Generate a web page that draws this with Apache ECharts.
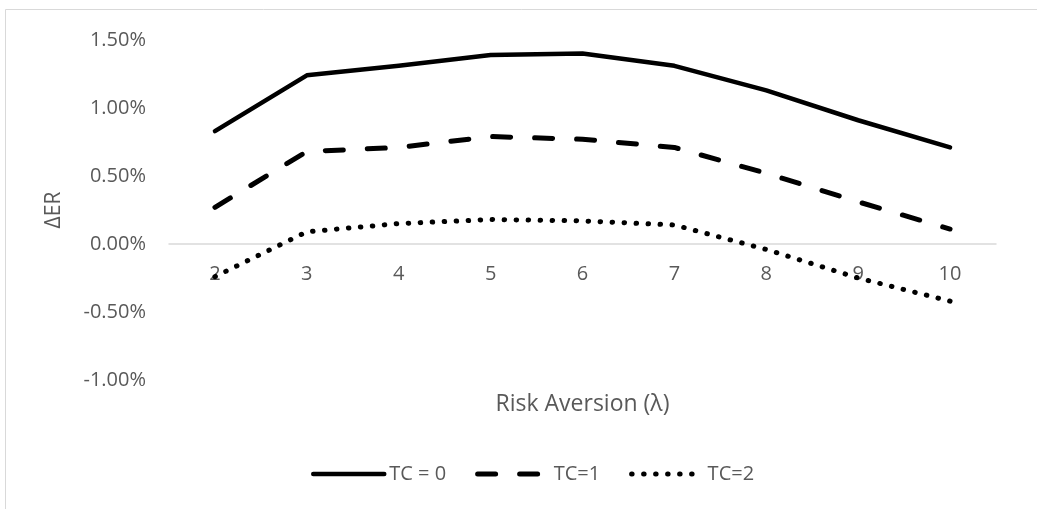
<!DOCTYPE html>
<html>
<head>
<meta charset="utf-8">
<script src="https://cdn.jsdelivr.net/npm/echarts@6/dist/echarts.min.js"></script>
<style>html,body{margin:0;padding:0;background:#fff;}#c{width:1037px;height:509px;}</style>
</head>
<body>
<div id="c"></div>
<script>
var categories = ['2', '3', '4', '5', '6', '7', '8', '9', '10'];
var tc0 = [0.83, 1.24, 1.31, 1.39, 1.40, 1.31, 1.13, 0.91, 0.71];
var tc1 = [0.27, 0.68, 0.71, 0.79, 0.77, 0.71, 0.52, 0.31, 0.11];
var tc2 = [-0.24, 0.09, 0.15, 0.18, 0.17, 0.14, -0.04, -0.25, -0.42];
var seriesNames = ['TC = 0', 'TC=1', 'TC=2'];

var FONT = 'Open Sans';
var TXT = '#595959';
var chart = echarts.init(document.getElementById('c'), null, {renderer: 'canvas'});
chart.setOption({
  animation: false,
  backgroundColor: '#fff',
  graphic: [{
    type: 'rect', silent: true, z: -1,
    shape: {x: 5.5, y: 9.5, width: 1100, height: 600},
    style: {fill: 'none', stroke: '#d9d9d9', lineWidth: 1}
  }],
  grid: {left: 169, right: 41, top: 40, bottom: 129, containLabel: false, outerBoundsMode: 'none'},
  legend: {
    left: 306, top: 459, itemWidth: 71, itemHeight: 14, itemGap: 29,
    itemStyle: {opacity: 0},
    lineStyle: {width: 'inherit', type: 'inherit', cap: 'inherit'},
    textStyle: {color: TXT, fontFamily: FONT, fontSize: 20},
    data: seriesNames
  },
  xAxis: {
    type: 'category', data: categories, boundaryGap: true,
    name: 'Risk Aversion (λ)', nameLocation: 'middle', nameGap: 13,
    nameTextStyle: {color: TXT, fontFamily: FONT, fontSize: 23},
    axisLine: {onZero: true, lineStyle: {color: '#d9d9d9', width: 1.5}},
    axisTick: {show: false},
    axisLabel: {color: TXT, fontFamily: FONT, fontSize: 20, margin: -116},
    splitLine: {show: false}
  },
  yAxis: {
    type: 'value', min: -1, max: 1.5, interval: 0.5,
    name: 'ΔER', nameLocation: 'middle', nameGap: 104, nameRotate: 90,
    nameTextStyle: {color: TXT, fontFamily: FONT, fontSize: 21},
    axisLine: {show: false}, axisTick: {show: false},
    splitLine: {show: false},
    axisLabel: {color: TXT, fontFamily: FONT, fontSize: 20, margin: 23,
      formatter: function (v) { return v.toFixed(2) + '%'; }}
  },
  series: [
    {name: seriesNames[0], type: 'line', data: tc0, symbol: 'none',
     lineStyle: {color: '#000', width: 4.5, cap: 'round', join: 'round'}, itemStyle: {color: '#000'}},
    {name: seriesNames[1], type: 'line', data: tc1, symbol: 'none',
     lineStyle: {color: '#000', width: 5, type: [18, 24], cap: 'round', join: 'round'}, itemStyle: {color: '#000'}},
    {name: seriesNames[2], type: 'line', data: tc2, symbol: 'none',
     lineStyle: {color: '#000', width: 5, type: [0.5, 11.5], cap: 'round', join: 'round'}, itemStyle: {color: '#000'}}
  ]
});
</script>
</body>
</html>
